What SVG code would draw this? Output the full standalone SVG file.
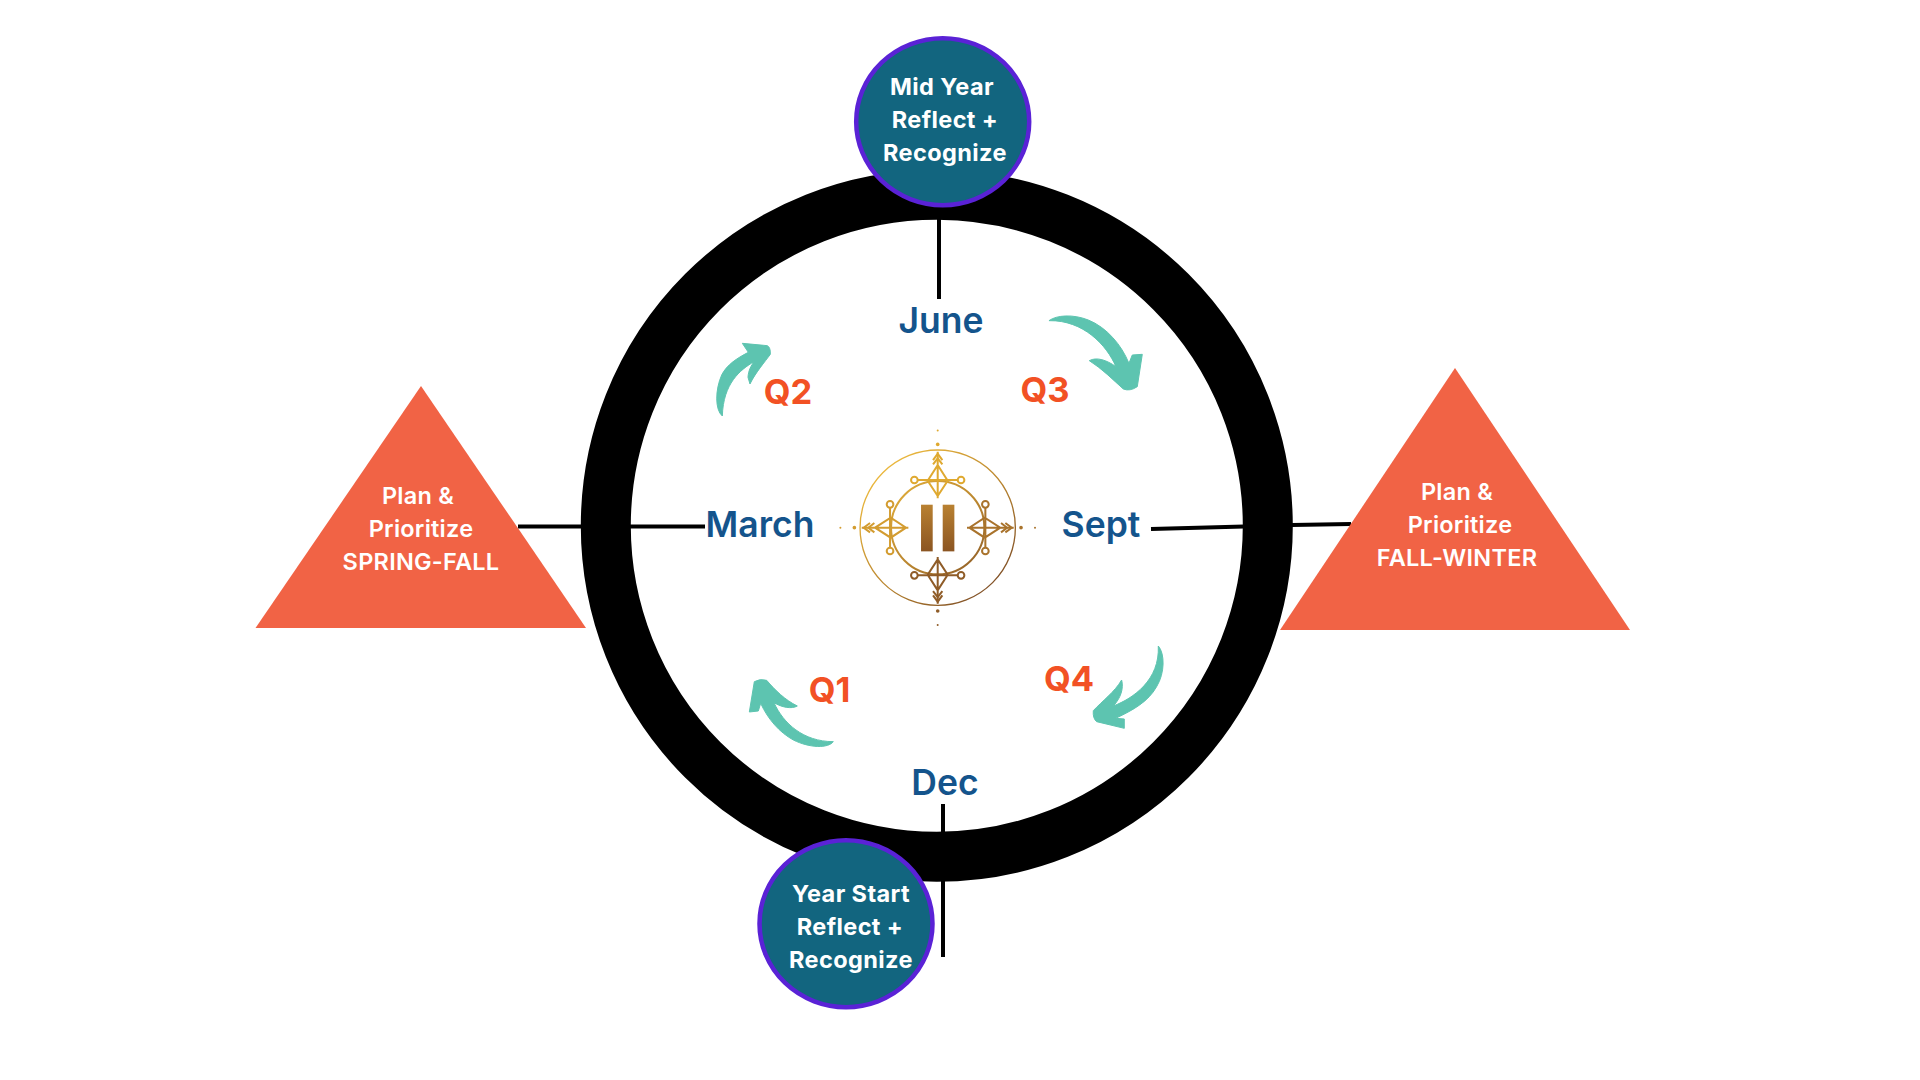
<svg xmlns="http://www.w3.org/2000/svg" width="1920" height="1080" viewBox="0 0 1920 1080">
<style>
text{font-family:"Inter","Noto Sans","Liberation Sans",sans-serif;text-anchor:middle}
.w{fill:#fff;font-size:23.500px;font-weight:700;letter-spacing:.4px}
.p{fill:#fff;font-size:23.500px;font-weight:600;letter-spacing:.25px}
.m{fill:#14548c;font-size:35.500px;font-weight:600}
.q{fill:#f25124;font-size:34.500px;font-weight:700}
.c{fill:#12657f;stroke:#5a22d6;stroke-width:4.500}
.t{fill:#f16345}
.l{stroke:#000;stroke-width:4;fill:none}
.a{fill:#5dc4b0;stroke:#5dc4b0;stroke-width:3}
.arm{fill:none;stroke-width:6;stroke-linejoin:miter}
</style>
<defs>
<linearGradient id="gold" gradientUnits="userSpaceOnUse" x1="-170" y1="-190" x2="170" y2="190"><stop offset="0" stop-color="#eebb3e"/><stop offset=".55" stop-color="#b9852f"/><stop offset="1" stop-color="#7d4d26"/></linearGradient>
<linearGradient id="bar" x1="0" y1="0" x2="0" y2="1"><stop offset="0" stop-color="#b98131"/><stop offset="1" stop-color="#8b5522"/></linearGradient>
<g id="arm">
<path class="arm" d="M0-228V-88M0-188L30-141 0-95-30-141ZM-60-143H60"/>
<circle class="arm" cx="-70" cy="-143" r="10"/><circle class="arm" cx="70" cy="-143" r="10"/>
<path class="arm" d="M-14-203L0-222 14-203M-14-190L0-208 14-190"/>
<circle cx="0" cy="-250" r="5.500" stroke="none"/><circle cx="0" cy="-292" r="3" stroke="none"/>
</g>
</defs>
<rect width="1920" height="1080" fill="#fff"/>
<g id="connectors">
<path class="l" d="M939 218V299M630 526.500H705M518 526.500H582M1151 529L1244 526.500M1292 525L1351 524M943 804V833M943 880V957"/>
</g>
<g id="ring"><circle cx="936.800" cy="525.800" r="331" fill="none" stroke="#000" stroke-width="50"/></g>
<g id="node-mid-year"><ellipse class="c" cx="942.700" cy="121.700" rx="86.500" ry="83.500"/>
<text class="w" x="942" y="95">Mid Year</text><text class="w" x="945" y="127.500">Reflect +</text><text class="w" x="945" y="160.500">Recognize</text></g>
<g id="node-year-start"><ellipse class="c" cx="846" cy="923.700" rx="86.500" ry="83.500"/>
<text class="w" x="851" y="902">Year Start</text><text class="w" x="850" y="935">Reflect +</text><text class="w" x="851" y="968">Recognize</text></g>
<g id="node-plan-spring"><path class="t" d="M421 386L586 628H255.500Z"/>
<text class="p" x="418" y="504">Plan &amp;</text><text class="p" x="421" y="537">Prioritize</text><text class="p" x="421" y="570">SPRING-FALL</text></g>
<g id="node-plan-fall"><path class="t" d="M1455 368L1630 630H1280Z"/>
<text class="p" x="1457" y="500">Plan &amp;</text><text class="p" x="1460" y="533">Prioritize</text><text class="p" x="1457" y="566">FALL-WINTER</text></g>
<g id="months">
<text class="m" x="941" y="333">June</text><text class="m" x="760" y="537">March</text><text class="m" x="1101" y="537">Sept</text><text class="m" x="945" y="795">Dec</text>
</g>
<g id="quarters">
<text class="q" x="788" y="404">Q2</text><text class="q" x="1045" y="402">Q3</text><text class="q" x="829.500" y="702">Q1</text><text class="q" x="1069" y="691">Q4</text>
</g>
<g id="arrows">
<path class="a" transform="translate(680 290) scale(.3333)" d="M127 378C105 360 105 300 125 255C140 225 170 205 205 187L187 160L262 167Q272 172 271 193C255 215 225 250 210 282L204 262C205 240 215 225 222 215C180 240 130 280 127 378Z"/>
<path class="a" transform="translate(680 290) scale(.3333)" d="M1107 92C1130 75 1180 72 1225 90C1280 112 1325 165 1347 220L1357 195L1387 193L1372 290Q1350 305 1330 297C1300 270 1265 235 1228 212C1250 200 1280 210 1308 230C1280 165 1210 90 1107 92Z"/>
<path class="a" transform="translate(700 620) scale(.3333)" d="M1375 78C1395 100 1395 160 1370 200C1345 245 1300 270 1247 295L1273 297L1273 325L1190 305Q1178 295 1180 272C1205 245 1245 215 1265 180C1272 205 1262 235 1240 258C1300 235 1380 180 1375 78Z"/>
<path class="a" transform="translate(700 620) scale(.3333)" d="M400 365C385 385 330 385 280 360C240 338 205 300 182 250L175 273L148 276L163 185Q180 175 200 181C225 210 255 240 292 258C275 268 245 262 222 248C250 310 310 365 400 365Z"/>
</g>
<g id="logo" transform="translate(937.700 527.700) scale(.3333)">
<circle cx="0" cy="0" r="233" fill="none" stroke="url(#gold)" stroke-width="4"/>
<circle cx="0" cy="0" r="140" fill="none" stroke="url(#gold)" stroke-width="6"/>
<use href="#arm" fill="#dfa930" stroke="#dfa930"/>
<use href="#arm" transform="rotate(-90)" fill="#d39c30" stroke="#d39c30"/>
<use href="#arm" transform="rotate(90)" fill="#a9732c" stroke="#a9732c"/>
<use href="#arm" transform="rotate(180)" fill="#8f5c28" stroke="#8f5c28"/>
<rect x="-50" y="-69" width="35" height="140" fill="url(#bar)"/>
<rect x="15" y="-69" width="35" height="140" fill="url(#bar)"/>
</g>
</svg>
